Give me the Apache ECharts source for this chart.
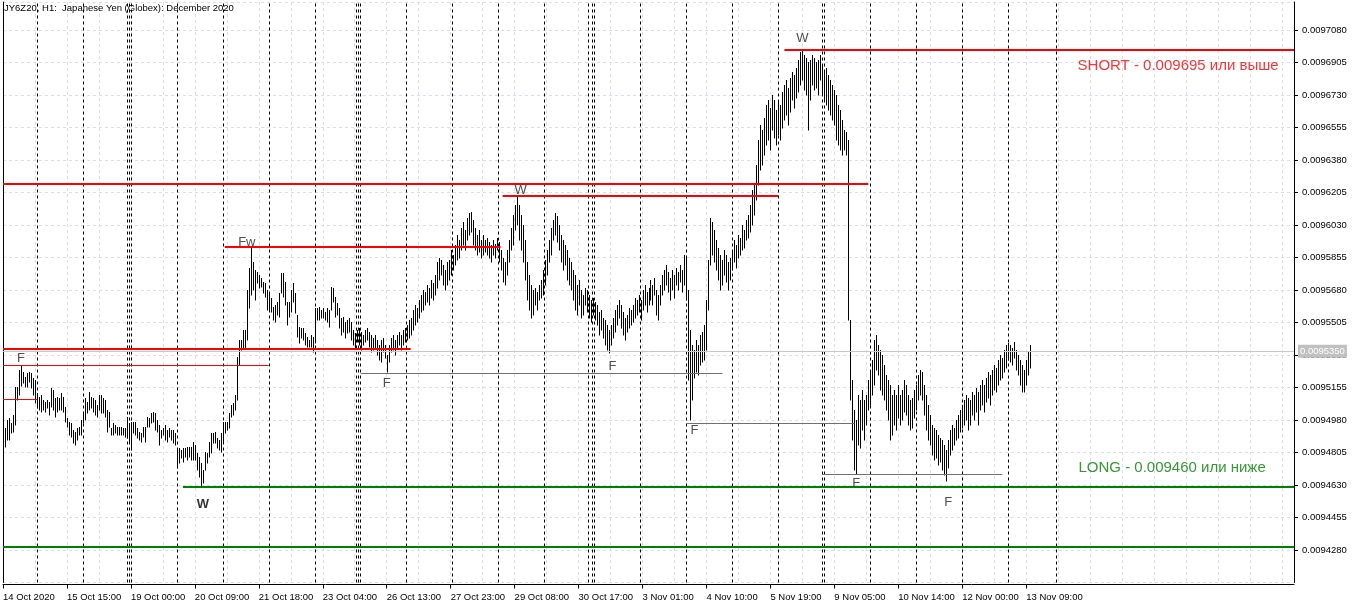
<!DOCTYPE html>
<html><head><meta charset="utf-8">
<script src="https://cdn.jsdelivr.net/npm/echarts@6/dist/echarts.min.js"></script>
<style>html,body{margin:0;padding:0;background:#fff}#c{width:1358px;height:607px}</style>
</head><body><div id="c"></div>
<script>
const title = 'JY6Z20, H1:  Japanese Yen (Globex): December 2020';
const tickLabels = ['14 Oct 2020','15 Oct 15:00','19 Oct 00:00','20 Oct 09:00','21 Oct 18:00','23 Oct 04:00','26 Oct 13:00','27 Oct 23:00','29 Oct 08:00','30 Oct 17:00','3 Nov 01:00','4 Nov 10:00','5 Nov 19:00','9 Nov 05:00','10 Nov 14:00','12 Nov 00:00','13 Nov 09:00'];
const highs = [
0.0094937,0.0094980,0.0094991,0.0094964,0.0095007,0.0095158,0.0095158,0.0095249,0.0095276,0.0095238,0.0095211,0.0095233,0.0095238,0.0095233,0.0095206,0.0095195,0.0095126,0.0095104,0.0095115,0.0095088,0.0095077,0.0095088,0.0095077,0.0095152,0.0095142,0.0095099,0.0095104,0.0095099,0.0095126,0.0095104,0.0095050,0.0094991,0.0094969,0.0094964,0.0094926,0.0094915,0.0094937,0.0094942,0.0094980,0.0095023,0.0095099,
0.0095077,0.0095131,0.0095104,0.0095099,0.0095088,0.0095061,0.0095115,0.0095115,0.0095099,0.0095088,0.0095034,0.0095023,0.0094937,0.0094964,0.0094953,0.0094942,0.0094942,0.0094942,0.0094937,0.0094937,0.0094996,0.0094964,0.0094969,0.0094969,0.0094969,0.0094937,0.0094915,0.0094910,0.0094942,0.0094942,0.0094996,0.0094991,0.0095018,0.0095023,0.0095018,0.0094980,0.0094953,0.0094926,0.0094937,0.0094953,0.0094926,0.0094937,0.0094926,
0.0094926,0.0094910,0.0094829,0.0094829,0.0094818,0.0094829,0.0094829,0.0094834,0.0094834,0.0094834,0.0094861,0.0094845,0.0094802,0.0094781,0.0094748,0.0094711,0.0094807,0.0094802,0.0094861,0.0094910,0.0094910,0.0094915,0.0094883,0.0094872,0.0094910,0.0094969,0.0094969,0.0094969,0.0095018,0.0095061,0.0095072,0.0095115,0.0095319,0.0095411,0.0095411,0.0095465,0.0095465,0.0095680,0.0095799,0.0095912,0.0095831,0.0095788,0.0095777,
0.0095761,0.0095745,0.0095723,0.0095718,0.0095680,0.0095669,0.0095637,0.0095588,0.0095599,0.0095615,0.0095664,0.0095772,0.0095772,0.0095723,0.0095615,0.0095615,0.0095680,0.0095718,0.0095664,0.0095545,0.0095481,0.0095475,0.0095475,0.0095449,0.0095427,0.0095411,0.0095438,0.0095427,0.0095583,0.0095583,0.0095588,0.0095572,0.0095583,0.0095561,0.0095583,0.0095572,0.0095696,0.0095691,0.0095642,0.0095610,0.0095583,0.0095529,0.0095534,0.0095508,0.0095518,
0.0095529,0.0095507,0.0095465,0.0095449,0.0095465,0.0095475,0.0095454,0.0095438,0.0095465,0.0095475,0.0095454,0.0095438,0.0095422,0.0095438,0.0095411,0.0095384,0.0095411,0.0095422,0.0095384,0.0095330,0.0095384,0.0095422,0.0095438,0.0095411,0.0095438,0.0095454,0.0095438,0.0095465,0.0095475,0.0095491,0.0095518,0.0095529,
0.0095572,0.0095599,0.0095583,0.0095626,0.0095653,0.0095680,0.0095669,0.0095707,0.0095691,0.0095734,0.0095718,0.0095761,0.0095831,0.0095853,0.0095842,0.0095815,0.0095788,0.0095831,0.0095842,0.0095895,0.0095868,0.0095922,0.0095976,0.0095949,0.0096014,0.0096046,0.0096003,0.0096068,0.0096095,0.0096100,0.0096057,0.0096014,0.0095976,0.0096003,0.0095949,0.0095976,0.0095949,0.0095960,0.0095938,0.0095922,0.0095949,0.0095927,0.0095960,0.0095938,0.0095895,0.0095853,0.0095831,0.0095895,0.0095949,0.0096014,0.0096084,0.0096137,0.0096181,0.0096137,0.0096084,0.0096030,0.0095949,0.0095831,0.0095761,0.0095707,0.0095680,0.0095691,0.0095669,0.0095707,0.0095734,0.0095788,0.0095842,0.0095895,0.0095949,0.0096014,0.0096057,0.0096095,0.0096079,0.0096030,0.0095976,0.0095949,0.0095922,0.0095895,0.0095853,0.0095831,0.0095788,0.0095761,0.0095707,0.0095734,0.0095680,0.0095653,0.0095691,0.0095680,0.0095653,0.0095626,0.0095637,0.0095615,0.0095599,0.0095561,0.0095572,0.0095529,0.0095518,0.0095491,0.0095465,0.0095491,0.0095529,0.0095572,0.0095599,0.0095626,0.0095599,0.0095561,0.0095529,0.0095545,0.0095583,0.0095572,0.0095599,0.0095637,0.0095626,0.0095653,0.0095626,0.0095680,0.0095707,0.0095669,0.0095691,0.0095734,0.0095707,0.0095745,0.0095680,0.0095653,0.0095707,0.0095761,0.0095788,0.0095815,0.0095777,0.0095745,0.0095788,0.0095761,0.0095799,0.0095777,0.0095815,0.0095788,0.0095868,0.0095853,
0.0095680,0.0095465,0.0095384,0.0095357,0.0095411,0.0095384,0.0095438,0.0095454,0.0095491,0.0095626,0.0095842,0.0096068,0.0096046,0.0096003,0.0095949,0.0095906,0.0095868,0.0095842,0.0095895,0.0095868,0.0095831,0.0095853,0.0095895,0.0095949,0.0095922,0.0095976,0.0095960,0.0096030,0.0096003,0.0096057,0.0096084,0.0096137,0.0096218,0.0096245,0.0096353,0.0096488,0.0096568,0.0096541,0.0096606,0.0096676,0.0096703,0.0096660,0.0096730,0.0096703,0.0096649,0.0096703,0.0096676,0.0096746,0.0096784,0.0096811,0.0096768,0.0096822,0.0096854,0.0096838,0.0096875,0.0096918,0.0096961,0.0096972,0.0096945,0.0096929,0.0096907,0.0096918,0.0096945,0.0096929,0.0096907,0.0096918,0.0096945,0.0096891,0.0096865,0.0096875,0.0096838,0.0096811,0.0096784,0.0096757,0.0096730,0.0096676,0.0096649,0.0096595,0.0096541,0.0096531,0.0096488,
0.0095518,0.0095195,0.0095034,0.0094980,0.0095115,0.0095088,0.0095142,0.0095088,0.0095115,0.0095195,0.0095238,0.0095303,0.0095411,0.0095438,0.0095384,0.0095357,0.0095330,0.0095276,0.0095222,0.0095195,0.0095168,0.0095115,0.0095142,0.0095115,0.0095168,0.0095115,0.0095142,0.0095195,0.0095168,0.0095115,0.0095088,0.0095099,0.0095142,0.0095168,0.0095222,0.0095249,0.0095238,0.0095168,0.0095115,0.0095061,0.0095007,0.0094953,0.0094937,0.0094926,0.0094899,0.0094883,0.0094872,0.0094845,0.0094818,0.0094872,0.0094926,0.0094953,0.0094937,0.0094980,0.0095007,0.0095034,0.0095061,0.0095088,0.0095115,0.0095099,0.0095088,0.0095131,0.0095115,0.0095152,0.0095131,0.0095168,0.0095195,0.0095168,0.0095206,0.0095238,0.0095222,0.0095249,0.0095276,0.0095260,0.0095303,0.0095330,0.0095314,0.0095357,0.0095384,0.0095395,0.0095384,0.0095368,0.0095400,0.0095357,0.0095330,0.0095303,0.0095276,0.0095249,0.0095303,0.0095346,0.0095384
];
const lows = [
0.0094834,0.0094872,0.0094872,0.0094910,0.0094915,0.0094953,0.0095088,0.0095115,0.0095163,0.0095179,0.0095158,0.0095158,0.0095185,0.0095152,0.0095115,0.0095072,0.0095045,0.0095034,0.0095023,0.0095034,0.0095023,0.0095045,0.0095007,0.0095050,0.0095034,0.0094996,0.0095023,0.0095034,0.0095034,0.0095023,0.0094969,0.0094942,0.0094899,0.0094888,0.0094856,0.0094845,0.0094872,0.0094899,0.0094899,0.0094964,0.0094980,
0.0095018,0.0095034,0.0095045,0.0095023,0.0095007,0.0094996,0.0095034,0.0095018,0.0095018,0.0094996,0.0094915,0.0094942,0.0094899,0.0094899,0.0094910,0.0094899,0.0094899,0.0094899,0.0094899,0.0094888,0.0094883,0.0094861,0.0094818,0.0094910,0.0094899,0.0094883,0.0094872,0.0094861,0.0094888,0.0094861,0.0094942,0.0094942,0.0094964,0.0094969,0.0094926,0.0094915,0.0094845,0.0094883,0.0094899,0.0094872,0.0094861,0.0094888,0.0094872,
0.0094856,0.0094845,0.0094721,0.0094748,0.0094775,0.0094754,0.0094781,0.0094765,0.0094781,0.0094765,0.0094765,0.0094765,0.0094711,0.0094673,0.0094619,0.0094641,0.0094711,0.0094748,0.0094781,0.0094802,0.0094856,0.0094856,0.0094829,0.0094818,0.0094807,0.0094856,0.0094910,0.0094926,0.0094937,0.0094996,0.0095007,0.0095034,0.0095088,0.0095276,0.0095357,0.0095368,0.0095368,0.0095411,0.0095583,0.0095653,0.0095680,0.0095626,0.0095718,
0.0095691,0.0095696,0.0095664,0.0095642,0.0095572,0.0095572,0.0095561,0.0095518,0.0095508,0.0095545,0.0095534,0.0095664,0.0095642,0.0095599,0.0095491,0.0095534,0.0095561,0.0095615,0.0095556,0.0095427,0.0095395,0.0095422,0.0095411,0.0095384,0.0095373,0.0095373,0.0095373,0.0095346,0.0095395,0.0095518,0.0095518,0.0095529,0.0095529,0.0095518,0.0095508,0.0095481,0.0095572,0.0095615,0.0095534,0.0095545,0.0095475,0.0095438,0.0095454,0.0095422,0.0095449,
0.0095454,0.0095411,0.0095384,0.0095368,0.0095400,0.0095384,0.0095357,0.0095384,0.0095400,0.0095411,0.0095373,0.0095346,0.0095357,0.0095368,0.0095330,0.0095303,0.0095292,0.0095346,0.0095314,0.0095238,0.0095292,0.0095346,0.0095357,0.0095330,0.0095368,0.0095384,0.0095357,0.0095384,0.0095400,0.0095411,0.0095422,0.0095438,
0.0095465,0.0095491,0.0095507,0.0095529,0.0095561,0.0095572,0.0095599,0.0095615,0.0095599,0.0095637,0.0095626,0.0095653,0.0095691,0.0095734,0.0095761,0.0095707,0.0095680,0.0095707,0.0095734,0.0095761,0.0095788,0.0095815,0.0095842,0.0095853,0.0095895,0.0095922,0.0095895,0.0095949,0.0095976,0.0095992,0.0095922,0.0095895,0.0095868,0.0095884,0.0095853,0.0095868,0.0095884,0.0095868,0.0095853,0.0095831,0.0095868,0.0095853,0.0095895,0.0095831,0.0095788,0.0095723,0.0095707,0.0095761,0.0095831,0.0095895,0.0095922,0.0096003,0.0096030,0.0095949,0.0095895,0.0095831,0.0095734,0.0095626,0.0095572,0.0095529,0.0095545,0.0095599,0.0095572,0.0095626,0.0095637,0.0095653,0.0095707,0.0095761,0.0095831,0.0095868,0.0095949,0.0095976,0.0095938,0.0095895,0.0095831,0.0095788,0.0095815,0.0095734,0.0095707,0.0095680,0.0095626,0.0095572,0.0095545,0.0095599,0.0095529,0.0095545,0.0095599,0.0095561,0.0095529,0.0095507,0.0095545,0.0095518,0.0095491,0.0095438,0.0095465,0.0095422,0.0095384,0.0095357,0.0095341,0.0095384,0.0095422,0.0095454,0.0095491,0.0095529,0.0095475,0.0095438,0.0095411,0.0095454,0.0095475,0.0095491,0.0095507,0.0095529,0.0095545,0.0095561,0.0095518,0.0095572,0.0095599,0.0095561,0.0095599,0.0095626,0.0095599,0.0095653,0.0095545,0.0095518,0.0095599,0.0095653,0.0095680,0.0095707,0.0095669,0.0095626,0.0095680,0.0095637,0.0095707,0.0095680,0.0095723,0.0095669,0.0095707,0.0095626,
0.0095195,0.0094980,0.0095088,0.0095206,0.0095238,0.0095222,0.0095276,0.0095292,0.0095303,0.0095357,0.0095572,0.0095815,0.0095868,0.0095831,0.0095788,0.0095734,0.0095680,0.0095707,0.0095761,0.0095723,0.0095680,0.0095734,0.0095788,0.0095831,0.0095799,0.0095853,0.0095868,0.0095895,0.0095906,0.0095949,0.0095960,0.0095992,0.0096030,0.0096084,0.0096164,0.0096245,0.0096326,0.0096353,0.0096407,0.0096461,0.0096488,0.0096434,0.0096541,0.0096498,0.0096461,0.0096514,0.0096488,0.0096552,0.0096595,0.0096622,0.0096568,0.0096638,0.0096703,0.0096660,0.0096714,0.0096746,0.0096784,0.0096811,0.0096757,0.0096730,0.0096541,0.0096703,0.0096784,0.0096757,0.0096768,0.0096730,0.0096811,0.0096730,0.0096703,0.0096676,0.0096649,0.0096622,0.0096595,0.0096568,0.0096488,0.0096461,0.0096434,0.0096407,0.0096434,0.0096407,0.0095518,
0.0095088,0.0094872,0.0094711,0.0094689,0.0094845,0.0094829,0.0094926,0.0094872,0.0094953,0.0095034,0.0095061,0.0095115,0.0095168,0.0095249,0.0095222,0.0095142,0.0095115,0.0095088,0.0095034,0.0094980,0.0094872,0.0094899,0.0094953,0.0094926,0.0094991,0.0094953,0.0094980,0.0095023,0.0095007,0.0094953,0.0094926,0.0094937,0.0094991,0.0095034,0.0095088,0.0095115,0.0095088,0.0095007,0.0094926,0.0094872,0.0094845,0.0094791,0.0094765,0.0094775,0.0094738,0.0094754,0.0094711,0.0094684,0.0094652,0.0094721,0.0094791,0.0094818,0.0094845,0.0094872,0.0094883,0.0094915,0.0094937,0.0094953,0.0094980,0.0094926,0.0094953,0.0095007,0.0094980,0.0095023,0.0094953,0.0095034,0.0095061,0.0095023,0.0095077,0.0095099,0.0095061,0.0095115,0.0095142,0.0095131,0.0095168,0.0095195,0.0095206,0.0095238,0.0095260,0.0095303,0.0095292,0.0095276,0.0095314,0.0095249,0.0095222,0.0095168,0.0095131,0.0095131,0.0095168,0.0095222,0.0095260
];
const separators = [17,40,62,63,64,87,110,133,156,177,178,179,202,225,248,271,293,295,296,319,342,365,388,410,411,434,457,480,503,527];
const thickRed = [0.0095362,0.0096250,0.0096186,0.0095911,0.0096972];
const thickRedFrom = [0,0,250,111,391];
const thickRedTo = [204,433,388,249,646];
const thinRed = [0.0095276,0.0095093];
const thinRedFrom = [0,0];
const thinRedTo = [133,17];
const grayLevels = [0.0095233,0.0094964,0.0094689];
const grayFrom = [179,342,410];
const grayTo = [360,426,500];
const greenLevels = [0.0094619,0.0094296];
const greenFrom = [90,0];
const greenTo = [646,646];
const bidPrice = 0.0095350;
const marks = ['F','Fw','W','F','F','W','F','W','F','F'];
const markIdx = [9,122,100,192,305,259,346,400,427,473];
const markPrice = [0.0095314,0.0095938,0.0094527,0.0095179,0.0095271,0.0096218,0.0094926,0.0097037,0.0094641,0.0094538];
const notes = ['SHORT - 0.009695 или выше','LONG - 0.009460 или ниже'];
const noteIdx = [588,585];
const notePrice = [0.0096886,0.0094722];

const N = 647;
const YMIN = 0.0094105, YMAX = 0.0097231, YSTEP = 0.0000175;
const cats = Array.from({length:N},(_,i)=>String(i));
const nBars = Math.min(highs.length, lows.length);
const bars = [];
for (let i=0;i<nBars;i++) bars.push([i+1, lows[i], highs[i]]);
function seg(levels, from, to){ return levels.map((v,i)=>[{coord:[from[i],v]},{coord:[to[i],v]}]); }
const FONT = "'Liberation Sans',Arial,sans-serif";

const chart = echarts.init(document.getElementById('c'), null, {renderer:'canvas'});
chart.setOption({
  animation:false,
  backgroundColor:'#fff',
  title:{text:title,left:4,top:3,padding:0,textStyle:{fontSize:9.5,fontWeight:'normal',color:'#000',fontFamily:FONT}},
  grid:{left:2,right:64,top:2,bottom:24.5,show:false},
  xAxis:{type:'category',data:cats,boundaryGap:false,offset:2,
    axisLine:{lineStyle:{color:'#000'}},
    axisTick:{interval:(i)=>i%32===0&&i/32<tickLabels.length,length:4,lineStyle:{color:'#000'}},
    axisLabel:{interval:(i)=>i%32===0&&i/32<tickLabels.length,formatter:(v,i)=>tickLabels[i/32]||'',align:'left',margin:8,fontSize:9.5,color:'#000',fontFamily:FONT},
    splitLine:{show:true,interval:(i)=>i%16===0,lineStyle:{color:'#dcdcf2',type:[3,3]}}},
  yAxis:[
    {type:'value',position:'right',min:YMIN,max:YMAX,interval:YSTEP,
      axisLine:{show:true,lineStyle:{color:'#000'}},
      axisTick:{show:true,length:4,lineStyle:{color:'#000'}},
      axisLabel:{showMinLabel:false,showMaxLabel:false,formatter:(v)=>v.toFixed(7),margin:8,fontSize:9.5,color:'#000',fontFamily:FONT},
      splitLine:{show:true,lineStyle:{color:'#dcdcf2',type:[3,3]}}},
    {type:'value',position:'left',min:YMIN,max:YMAX,
      axisLine:{show:true,lineStyle:{color:'#000'}},axisTick:{show:false},axisLabel:{show:false},splitLine:{show:false}}
  ],
  series:[
    {type:'line',data:[],silent:true,
      markLine:{silent:true,symbol:'none',animation:false,label:{show:false},
        data:[].concat(
          separators.map(s=>({xAxis:s,lineStyle:{color:'#000',type:[3,3],width:1}})),
          seg(greenLevels,greenFrom,greenTo).map(d=>(d[0].lineStyle={color:'#008000',width:2,type:'solid'},d)),
          seg(thickRed,thickRedFrom,thickRedTo).map(d=>(d[0].lineStyle={color:'#ff0000',width:2,type:'solid'},d)),
          seg(thinRed,thinRedFrom,thinRedTo).map(d=>(d[0].lineStyle={color:'#ff0000',width:1,type:'solid'},d)),
          seg(grayLevels,grayFrom,grayTo).map(d=>(d[0].lineStyle={color:'#707070',width:1,type:'solid'},d))
        )}},
    {type:'line',data:[],silent:true,z:1,
      markLine:{silent:true,symbol:'none',animation:false,
        lineStyle:{color:'#c8c8c8',type:'solid',width:1},
        label:{show:true,position:'end',formatter:bidPrice.toFixed(7),color:'#fff',backgroundColor:'#c0c0c0',padding:[2,2,1,2],fontSize:9.5,fontFamily:FONT,distance:4},
        data:seg([bidPrice],[0],[646])}},
    {type:'custom',data:bars,encode:{x:0,y:[1,2]},silent:true,z:3,
      renderItem:function(params,api){
        const lo=api.coord([api.value(0),api.value(1)]);
        const hi=api.coord([api.value(0),api.value(2)]);
        const x=Math.round(lo[0])+0.5;
        return {type:'line',shape:{x1:x,y1:Math.round(lo[1])+0.5,x2:x,y2:Math.round(hi[1])},style:{stroke:'#000',lineWidth:1}};
      }},
    {type:'scatter',symbolSize:0,silent:true,z:6,
      data:marks.map((m,i)=>({value:[markIdx[i],markPrice[i]],name:m,label:(i===2?{fontWeight:'bold',color:'#000'}:{})})),
      label:{show:true,position:'inside',formatter:(p)=>p.name,color:'#222',fontSize:13,fontFamily:FONT}},
    {type:'scatter',symbolSize:0,silent:true,z:6,
      data:notes.map((m,i)=>({value:[noteIdx[i],notePrice[i]],name:m,label:{color:i===0?'#ff0000':'#008000'}})),
      label:{show:true,position:'inside',formatter:(p)=>p.name,fontSize:15,fontFamily:FONT}}
  ]
});
</script></body></html>
